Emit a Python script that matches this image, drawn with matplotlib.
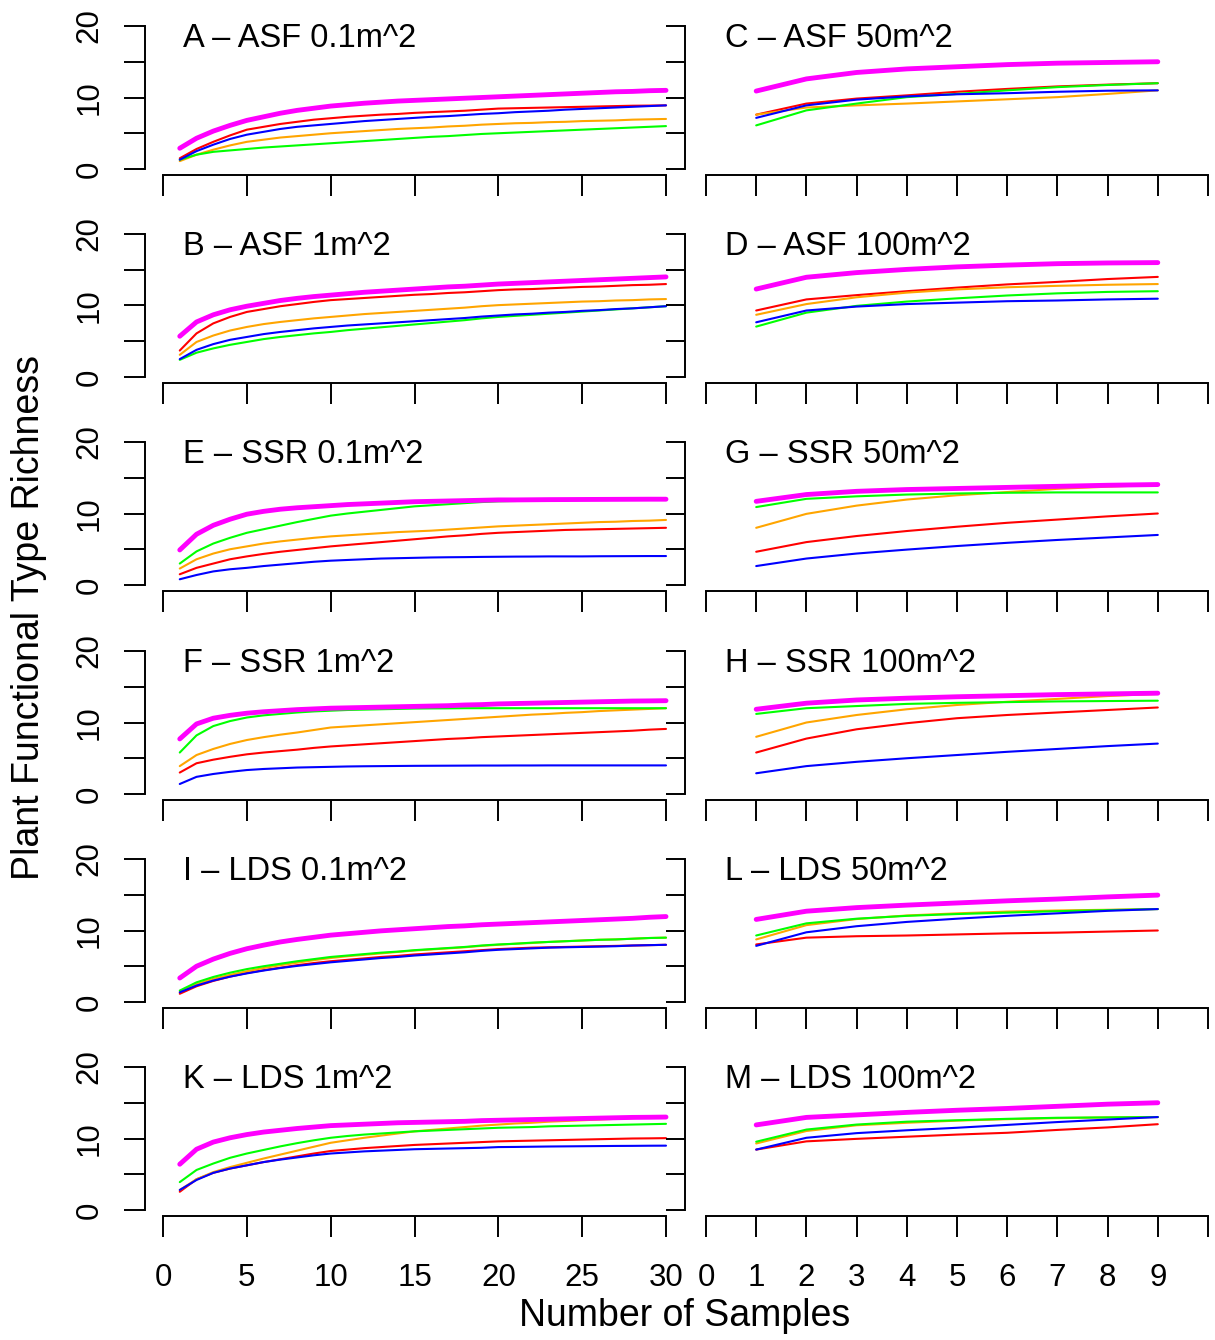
import matplotlib
matplotlib.use("Agg")
import matplotlib.pyplot as plt

plt.rcParams['font.family'] = ['Liberation Sans', 'DejaVu Sans']

# x values
x_left = list(range(1, 31))
x_right = list(range(1, 10))

# ---- left column (30 samples) ----
A_red = [1.5, 2.8, 3.8, 4.7, 5.5, 5.9, 6.3, 6.6, 6.9, 7.1, 7.3, 7.45, 7.6, 7.7, 7.85, 7.95, 8.05, 8.15, 8.3, 8.45,
         8.5, 8.55, 8.6, 8.65, 8.7, 8.75, 8.8, 8.85, 8.87, 8.9]
A_orange = [1.1, 2.0, 2.7, 3.3, 3.8, 4.1, 4.4, 4.6, 4.8, 5.0, 5.15, 5.3, 5.45, 5.6, 5.7, 5.8, 5.95, 6.05, 6.2, 6.3,
            6.4, 6.45, 6.55, 6.6, 6.7, 6.75, 6.8, 6.9, 6.95, 7.0]
A_green = [1.3, 2.0, 2.4, 2.6, 2.8, 3.0, 3.15, 3.3, 3.45, 3.6, 3.75, 3.9, 4.05, 4.2, 4.35, 4.5, 4.6, 4.75, 4.9, 5.0,
           5.1, 5.2, 5.3, 5.4, 5.5, 5.6, 5.7, 5.8, 5.9, 6.0]
A_blue = [1.3, 2.5, 3.4, 4.2, 4.8, 5.2, 5.6, 5.9, 6.1, 6.3, 6.5, 6.7, 6.85, 7.0, 7.15, 7.3, 7.4, 7.55, 7.7, 7.8,
          7.95, 8.05, 8.15, 8.3, 8.4, 8.5, 8.6, 8.7, 8.8, 8.9]
A_magenta = [2.9, 4.3, 5.3, 6.1, 6.8, 7.3, 7.8, 8.2, 8.5, 8.8, 9.0, 9.2, 9.35, 9.5, 9.6, 9.7, 9.8, 9.9, 10.0, 10.1,
             10.2, 10.3, 10.4, 10.5, 10.6, 10.7, 10.8, 10.85, 10.95, 11.0]

B_red = [3.7, 6.1, 7.5, 8.4, 9.1, 9.5, 9.9, 10.2, 10.5, 10.75, 10.9, 11.05, 11.2, 11.35, 11.5, 11.6, 11.75, 11.85,
         12.0, 12.15, 12.25, 12.3, 12.4, 12.5, 12.6, 12.65, 12.75, 12.85, 12.9, 13.0]
B_orange = [3.1, 4.9, 5.8, 6.5, 7.0, 7.4, 7.7, 7.95, 8.2, 8.4, 8.6, 8.8, 8.95, 9.1, 9.25, 9.4, 9.55, 9.7, 9.9, 10.05,
            10.15, 10.25, 10.35, 10.45, 10.55, 10.6, 10.7, 10.75, 10.85, 10.9]
B_green = [2.4, 3.4, 4.0, 4.5, 4.9, 5.3, 5.6, 5.85, 6.1, 6.3, 6.55, 6.75, 6.95, 7.15, 7.35, 7.55, 7.75, 7.95, 8.2,
           8.4, 8.55, 8.7, 8.85, 9.0, 9.15, 9.3, 9.45, 9.6, 9.75, 9.9]
B_blue = [2.5, 3.8, 4.6, 5.2, 5.6, 6.0, 6.3, 6.55, 6.8, 7.0, 7.2, 7.35, 7.5, 7.65, 7.8, 7.95, 8.1, 8.25, 8.45, 8.6,
          8.75, 8.85, 9.0, 9.1, 9.25, 9.35, 9.5, 9.6, 9.75, 9.9]
B_magenta = [5.7, 7.7, 8.7, 9.4, 9.9, 10.3, 10.7, 11.0, 11.25, 11.45, 11.65, 11.85, 12.0, 12.15, 12.3, 12.45, 12.6,
             12.7, 12.85, 13.0, 13.1, 13.2, 13.3, 13.4, 13.5, 13.6, 13.7, 13.8, 13.9, 14.0]

E_red = [1.5, 2.4, 3.0, 3.6, 4.0, 4.35, 4.65, 4.9, 5.15, 5.4, 5.6, 5.8, 6.0, 6.2, 6.4, 6.6, 6.8, 6.95, 7.15, 7.3,
         7.4, 7.5, 7.6, 7.7, 7.75, 7.8, 7.85, 7.9, 7.95, 8.0]
E_orange = [2.3, 3.6, 4.4, 5.0, 5.4, 5.8, 6.1, 6.35, 6.6, 6.8, 6.95, 7.1, 7.25, 7.4, 7.5, 7.6, 7.75, 7.9, 8.05, 8.2,
            8.3, 8.4, 8.5, 8.6, 8.7, 8.8, 8.85, 8.95, 9.0, 9.1]
E_green = [3.0, 4.7, 5.8, 6.6, 7.3, 7.8, 8.3, 8.8, 9.25, 9.7, 10.0, 10.25, 10.5, 10.75, 11.0, 11.15, 11.3, 11.45,
           11.6, 11.7, 11.75, 11.8, 11.85, 11.88, 11.9, 11.93, 11.95, 11.97, 11.99, 12.0]
E_blue = [0.8, 1.4, 1.9, 2.2, 2.4, 2.65, 2.85, 3.05, 3.25, 3.4, 3.5, 3.6, 3.7, 3.75, 3.8, 3.85, 3.88, 3.9, 3.93, 3.95,
          3.97, 3.98, 4.0, 4.0, 4.0, 4.02, 4.03, 4.04, 4.05, 4.05]
E_magenta = [4.9, 7.1, 8.35, 9.2, 9.9, 10.3, 10.6, 10.8, 10.95, 11.1, 11.25, 11.35, 11.45, 11.55, 11.65, 11.7, 11.75,
             11.8, 11.85, 11.9, 11.9, 11.92, 11.94, 11.95, 11.96, 11.97, 11.98, 11.99, 12.0, 12.0]

F_red = [3.0, 4.3, 4.8, 5.2, 5.55, 5.8, 6.0, 6.2, 6.45, 6.65, 6.8, 6.95, 7.1, 7.25, 7.4, 7.55, 7.7, 7.8, 7.95, 8.05,
         8.15, 8.25, 8.35, 8.45, 8.55, 8.65, 8.75, 8.85, 9.0, 9.1]
F_orange = [3.9, 5.45, 6.3, 7.0, 7.55, 7.95, 8.3, 8.6, 8.95, 9.3, 9.45, 9.6, 9.75, 9.9, 10.05, 10.2, 10.35, 10.5,
            10.65, 10.8, 10.95, 11.1, 11.2, 11.35, 11.45, 11.6, 11.7, 11.8, 11.9, 12.0]
F_green = [5.8, 8.2, 9.5, 10.2, 10.7, 11.0, 11.2, 11.4, 11.55, 11.65, 11.75, 11.8, 11.85, 11.9, 11.95, 11.97, 11.98,
           12.0, 12.0, 12.0, 12.0, 12.0, 12.0, 12.0, 12.0, 12.0, 12.0, 12.0, 12.0, 12.0]
F_blue = [1.4, 2.4, 2.8, 3.1, 3.35, 3.5, 3.6, 3.7, 3.75, 3.8, 3.85, 3.88, 3.9, 3.92, 3.94, 3.95, 3.96, 3.97, 3.98,
          3.98, 3.99, 3.99, 4.0, 4.0, 4.0, 4.0, 4.0, 4.0, 4.0, 4.0]
F_magenta = [7.7, 9.8, 10.6, 11.0, 11.3, 11.5, 11.65, 11.8, 11.9, 12.0, 12.05, 12.1, 12.15, 12.2, 12.25, 12.3, 12.35,
             12.45, 12.5, 12.6, 12.65, 12.7, 12.75, 12.8, 12.85, 12.9, 12.95, 13.0, 13.02, 13.05]

I_red = [1.15, 2.2, 2.95, 3.55, 4.05, 4.45, 4.8, 5.15, 5.45, 5.7, 5.9, 6.1, 6.3, 6.45, 6.65, 6.8, 6.95, 7.1, 7.25,
         7.4, 7.5, 7.6, 7.65, 7.7, 7.75, 7.8, 7.85, 7.9, 7.95, 8.0]
I_orange = [1.4, 2.5, 3.25, 3.8, 4.3, 4.75, 5.15, 5.5, 5.85, 6.15, 6.4, 6.6, 6.8, 7.0, 7.2, 7.35, 7.5, 7.65, 7.85,
            8.0, 8.15, 8.25, 8.4, 8.5, 8.6, 8.7, 8.75, 8.85, 8.95, 9.0]
I_green = [1.6, 2.75, 3.5, 4.1, 4.6, 5.0, 5.35, 5.7, 6.0, 6.3, 6.5, 6.7, 6.9, 7.05, 7.25, 7.4, 7.55, 7.7, 7.9, 8.05,
           8.15, 8.3, 8.4, 8.5, 8.6, 8.7, 8.75, 8.85, 8.95, 9.0]
I_blue = [1.35, 2.3, 3.0, 3.55, 4.0, 4.4, 4.75, 5.05, 5.3, 5.55, 5.75, 5.95, 6.15, 6.3, 6.5, 6.65, 6.8, 6.95, 7.15,
          7.3, 7.4, 7.5, 7.6, 7.65, 7.7, 7.75, 7.8, 7.9, 7.95, 8.0]
I_magenta = [3.35, 5.0, 6.0, 6.8, 7.45, 7.95, 8.4, 8.75, 9.05, 9.35, 9.55, 9.75, 9.95, 10.1, 10.25, 10.4, 10.55,
             10.65, 10.8, 10.9, 11.0, 11.1, 11.2, 11.3, 11.4, 11.5, 11.6, 11.7, 11.85, 11.95]

K_red = [2.55, 4.3, 5.2, 5.8, 6.25, 6.7, 7.1, 7.5, 7.9, 8.25, 8.45, 8.65, 8.8, 8.95, 9.1, 9.2, 9.3, 9.4, 9.5, 9.6,
         9.65, 9.7, 9.75, 9.8, 9.85, 9.9, 9.95, 10.0, 10.02, 10.05]
K_orange = [2.8, 4.3, 5.3, 6.0, 6.6, 7.2, 7.75, 8.3, 8.85, 9.4, 9.75, 10.1, 10.4, 10.7, 11.0, 11.2, 11.4, 11.6, 11.8,
            11.95, 12.1, 12.2, 12.35, 12.45, 12.55, 12.65, 12.75, 12.85, 12.95, 13.0]
K_green = [3.9, 5.6, 6.5, 7.3, 7.9, 8.4, 8.9, 9.35, 9.75, 10.1, 10.35, 10.55, 10.7, 10.85, 11.0, 11.1, 11.2, 11.3,
           11.4, 11.5, 11.55, 11.6, 11.7, 11.75, 11.8, 11.85, 11.9, 11.95, 12.0, 12.05]
K_blue = [2.8, 4.2, 5.2, 5.8, 6.25, 6.7, 7.05, 7.35, 7.65, 7.9, 8.05, 8.2, 8.3, 8.4, 8.5, 8.55, 8.6, 8.65, 8.7, 8.8,
          8.82, 8.85, 8.88, 8.9, 8.92, 8.94, 8.96, 8.97, 8.99, 9.0]
K_magenta = [6.4, 8.5, 9.5, 10.1, 10.55, 10.9, 11.15, 11.4, 11.6, 11.8, 11.9, 12.0, 12.1, 12.2, 12.25, 12.3, 12.35,
             12.4, 12.5, 12.55, 12.6, 12.65, 12.7, 12.75, 12.8, 12.85, 12.9, 12.95, 12.97, 13.0]

# ---- right column (9 samples) ----
C_red = [7.6, 9.15, 9.85, 10.3, 10.8, 11.2, 11.55, 11.8, 12.0]
C_orange = [7.6, 8.6, 8.9, 9.15, 9.45, 9.75, 10.05, 10.5, 11.0]
C_green = [6.1, 8.2, 9.15, 10.05, 10.5, 11.0, 11.45, 11.75, 12.0]
C_blue = [7.15, 8.9, 9.7, 10.15, 10.45, 10.6, 10.8, 10.95, 11.0]
C_magenta = [10.9, 12.6, 13.5, 14.0, 14.3, 14.6, 14.8, 14.9, 15.0]

D_red = [9.3, 10.85, 11.45, 12.0, 12.5, 12.95, 13.3, 13.7, 14.0]
D_orange = [8.7, 10.2, 11.15, 11.8, 12.25, 12.55, 12.75, 12.9, 13.0]
D_green = [7.05, 9.0, 9.95, 10.55, 11.0, 11.4, 11.7, 11.9, 12.0]
D_blue = [7.65, 9.3, 9.85, 10.2, 10.4, 10.6, 10.7, 10.85, 10.95]
D_magenta = [12.3, 13.95, 14.6, 15.05, 15.4, 15.65, 15.85, 15.95, 16.0]

G_red = [4.65, 6.0, 6.85, 7.55, 8.15, 8.7, 9.15, 9.6, 10.0]
G_orange = [8.0, 9.95, 11.1, 11.95, 12.55, 13.0, 13.45, 13.75, 14.0]
G_green = [10.9, 12.05, 12.4, 12.65, 12.8, 12.9, 12.95, 12.95, 12.95]
G_blue = [2.65, 3.7, 4.4, 4.95, 5.45, 5.9, 6.3, 6.65, 7.0]
G_magenta = [11.7, 12.65, 13.1, 13.35, 13.5, 13.65, 13.8, 13.95, 14.05]

H_red = [5.8, 7.75, 9.05, 9.9, 10.6, 11.05, 11.4, 11.75, 12.1]
H_orange = [8.0, 10.0, 11.05, 11.85, 12.45, 12.9, 13.3, 13.7, 14.0]
H_green = [11.2, 12.0, 12.3, 12.6, 12.75, 12.85, 12.95, 13.0, 13.05]
H_blue = [2.9, 3.9, 4.5, 5.0, 5.45, 5.9, 6.3, 6.7, 7.05]
H_magenta = [11.85, 12.7, 13.15, 13.4, 13.6, 13.75, 13.9, 14.0, 14.1]

L_red = [8.05, 9.0, 9.2, 9.3, 9.45, 9.6, 9.7, 9.85, 10.0]
L_orange = [8.75, 10.75, 11.6, 12.1, 12.4, 12.65, 12.8, 12.9, 13.0]
L_green = [9.3, 11.0, 11.65, 12.05, 12.3, 12.5, 12.7, 12.85, 13.0]
L_blue = [7.85, 9.75, 10.6, 11.2, 11.65, 12.05, 12.4, 12.75, 13.0]
L_magenta = [11.55, 12.7, 13.2, 13.55, 13.85, 14.15, 14.4, 14.7, 14.95]

M_red = [8.45, 9.6, 9.95, 10.25, 10.55, 10.8, 11.2, 11.55, 12.0]
M_orange = [9.3, 11.05, 11.85, 12.2, 12.5, 12.7, 12.85, 12.95, 13.0]
M_green = [9.55, 11.25, 11.95, 12.35, 12.55, 12.75, 12.9, 12.95, 13.0]
M_blue = [8.45, 10.1, 10.75, 11.15, 11.5, 11.9, 12.3, 12.65, 13.0]
M_magenta = [11.9, 12.95, 13.3, 13.65, 13.95, 14.2, 14.5, 14.8, 15.0]

left_titles = ["A – ASF 0.1m^2", "B – ASF 1m^2", "E – SSR 0.1m^2",
               "F – SSR 1m^2", "I – LDS 0.1m^2", "K – LDS 1m^2"]
right_titles = ["C – ASF 50m^2", "D – ASF 100m^2", "G – SSR 50m^2",
                "H – SSR 100m^2", "L – LDS 50m^2", "M – LDS 100m^2"]

left_data = [
    [A_red, A_orange, A_green, A_blue, A_magenta],
    [B_red, B_orange, B_green, B_blue, B_magenta],
    [E_red, E_orange, E_green, E_blue, E_magenta],
    [F_red, F_orange, F_green, F_blue, F_magenta],
    [I_red, I_orange, I_green, I_blue, I_magenta],
    [K_red, K_orange, K_green, K_blue, K_magenta],
]
right_data = [
    [C_red, C_orange, C_green, C_blue, C_magenta],
    [D_red, D_orange, D_green, D_blue, D_magenta],
    [G_red, G_orange, G_green, G_blue, G_magenta],
    [H_red, H_orange, H_green, H_blue, H_magenta],
    [L_red, L_orange, L_green, L_blue, L_magenta],
    [M_red, M_orange, M_green, M_blue, M_magenta],
]

colors = ['#FF0000', '#FFA500', '#00FF00', '#0000FF', '#FF00FF']
widths = [1.5, 1.5, 1.5, 1.5, 3.5]

W, H = 1215, 1340
fig = plt.figure(figsize=(W / 100, H / 100), dpi=100)


def px_axes(x0, x1, ytop, ybot):
    return fig.add_axes([x0 / W, 1 - ybot / H, (x1 - x0) / W, (ybot - ytop) / H])


row_top = [26, 234, 442, 651, 859, 1067]   # pixel of y=20
unit = 7.15                                 # px per richness unit
gap = 6                                     # px from y=0 to x-axis line
px_per_x = 16.77

tick_kw = dict(length=15, width=1.4, labelsize=22.5, color='black')

for r in range(6):
    top = row_top[r]
    bot = top + 20 * unit + gap
    last = (r == 5)

    # ---------- left column ----------
    ax = px_axes(145, 685, top, bot)
    for ys, c, lw in zip(left_data[r], colors, widths):
        ax.plot(x_left, ys, color=c, lw=lw, solid_capstyle='round')
    ax.set_xlim(-18 / px_per_x, 30 + 19 / px_per_x)
    ax.set_ylim(-gap / unit, 20)
    for s in ['top', 'right']:
        ax.spines[s].set_visible(False)
    ax.spines['left'].set_bounds(0, 20)
    ax.spines['bottom'].set_bounds(0, 30)
    for s in ['left', 'bottom']:
        ax.spines[s].set_linewidth(1.4)
    ax.set_yticks([0, 5, 10, 15, 20], ['0', '', '10', '', '20'])
    ax.set_xticks(range(0, 31, 5))
    ax.tick_params(axis='y', direction='out', pad=14, labelrotation=90, **tick_kw)
    for lab in ax.get_yticklabels():
        lab.set_va('center')
    ax.tick_params(axis='x', direction='out', pad=19, labelbottom=last, **tick_kw)
    ax.text(1.2, 18.3, left_titles[r], fontsize=23.5, ha='left', va='center')

    # right bracket with inward ticks
    ax2 = ax.twinx()
    ax2.set_ylim(-gap / unit, 20)
    for s in ['top', 'left', 'bottom']:
        ax2.spines[s].set_visible(False)
    ax2.spines['right'].set_bounds(0, 20)
    ax2.spines['right'].set_linewidth(1.4)
    ax2.set_yticks([0, 5, 10, 15, 20])
    ax2.tick_params(axis='y', direction='in', length=14, width=1.4, labelright=False)

    # ---------- right column ----------
    axr = px_axes(706, 1208, top, bot)
    for ys, c, lw in zip(right_data[r], colors, widths):
        axr.plot(x_right, ys, color=c, lw=lw, solid_capstyle='round')
    axr.set_xlim(0, 10)
    axr.set_ylim(-gap / unit, 20)
    for s in ['top', 'right', 'left']:
        axr.spines[s].set_visible(False)
    axr.spines['bottom'].set_linewidth(1.4)
    axr.set_yticks([])
    axr.set_xticks(range(0, 11), [str(i) for i in range(10)] + [''])
    axr.tick_params(axis='x', direction='out', pad=19, labelbottom=last, **tick_kw)
    axr.text(0.38, 18.3, right_titles[r], fontsize=23.5, ha='left', va='center')

fig.text(685 / W, 1 - 1316 / H, "Number of Samples", fontsize=27, ha='center', va='center')
fig.text(29 / W, 1 - 617 / H, "Plant Functional Type Richness", fontsize=27,
         rotation=90, ha='center', va='center')

fig.savefig("out.png", dpi=100)
